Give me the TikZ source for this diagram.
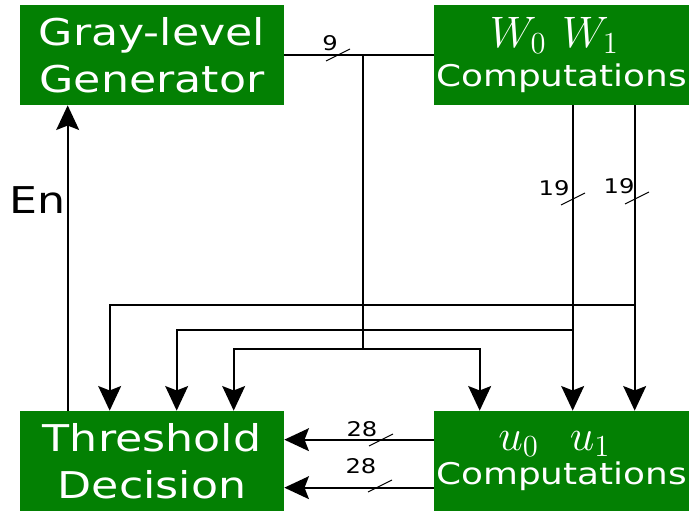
\documentclass[tikz,border=0pt]{standalone}
\usepackage{fontspec}
\setmainfont{DejaVu Sans}[FakeStretch=1.2]
\usetikzlibrary{arrows.meta,calc}
\definecolor{BoxClr}{rgb}{0.01,0.5,0.01}

\begin{document}
\begin{tikzpicture}[x=0.02cm,y=-0.02cm,
  block/.style={fill=BoxClr,text=white,minimum height=2cm,inner sep=0pt,align=center},
  bigtext/.style={font=\fontsize{21}{26.5}\selectfont},
  comptext/.style={font=\fontsize{17}{22.5}\selectfont},
  num/.style={inner sep=0pt,font=\fontsize{11.5}{12}\selectfont},
  wire/.style={line width=1.1pt},
  bus/.style={wire,-{Stealth[length=14pt,width=13pt,inset=2.5pt]}},
  tick/.style={line width=0.6pt}]
\useasboundingbox (0,0) rectangle (689,511);

% blocks
\node[block,bigtext,minimum width=5.28cm] (gray) at (152,55) {Gray-level\\Generator};
\node[block,comptext,minimum width=5.1cm] (wcomp) at (561.5,55)
  {\scalebox{1.45}{\fontsize{17.28}{20}\selectfont$W_0\hspace{6pt}W_1$}\kern8pt\\[0pt]Computations};
\node[block,bigtext,minimum width=5.28cm] (thresh) at (152,461) {Threshold\\Decision};
\node[block,comptext,minimum width=5.1cm] (ucomp) at (561.5,461)
  {\scalebox{1.45}{\fontsize{17.28}{20}\selectfont$u_0\hspace{12pt}u_1$}\kern8pt\\[-3pt]Computations};

% tap points
\coordinate (split) at (363,55);
\coordinate (hA) at (0,305);
\coordinate (hB) at (0,330);
\coordinate (hC) at (363,349);
\coordinate (wa) at ($(wcomp.south west)+(139,0)$);
\coordinate (wb) at ($(wcomp.south west)+(201,0)$);
\coordinate (ena) at ($(thresh.north west)+(48,0)$);

% gray-level bus
\draw[line width=0.6pt] (gray.east |- split) -- (wcomp.west |- split);
\draw[wire] (split) -- (hC);
\draw[bus] (hC) -| ($(thresh.north west)+(214,0)$);
\draw[bus] (hC) -| ($(ucomp.north west)+(46,0)$);

% W0, W1 buses
\draw[bus] (wa) -- (wa |- ucomp.north);
\draw[bus] (wb) -- (wb |- ucomp.north);
\draw[bus] (wb |- hA) -| ($(thresh.north west)+(90,0)$);
\draw[bus] (wa |- hB) -| ($(thresh.north west)+(157,0)$);

% u0, u1 buses
\draw[bus] ($(ucomp.north west)+(0,29)$) -- ($(thresh.north east)+(0,29)$);
\draw[bus] ($(ucomp.north west)+(0,77)$) -- ($(thresh.north east)+(0,77)$);

% enable
\draw[bus] (ena) -- (ena |- gray.south);
\node[bigtext,inner sep=0pt] (en) at (38,200) {En};

% bus widths
\foreach \p in {(338,55),(573,199),(637,198),(381,440),(380,486)}
  \draw[tick] \p ++(-12,6) -- ++(24,-12);
\node[num] (n9) at (330,43) {9};
\node[num] (n19a) at (554,188) {19};
\node[num] (n19b) at (619,186) {19};
\node[num] (n28a) at (362,429) {28};
\node[num] (n28b) at (361,466) {28};

\end{tikzpicture}
\end{document}
